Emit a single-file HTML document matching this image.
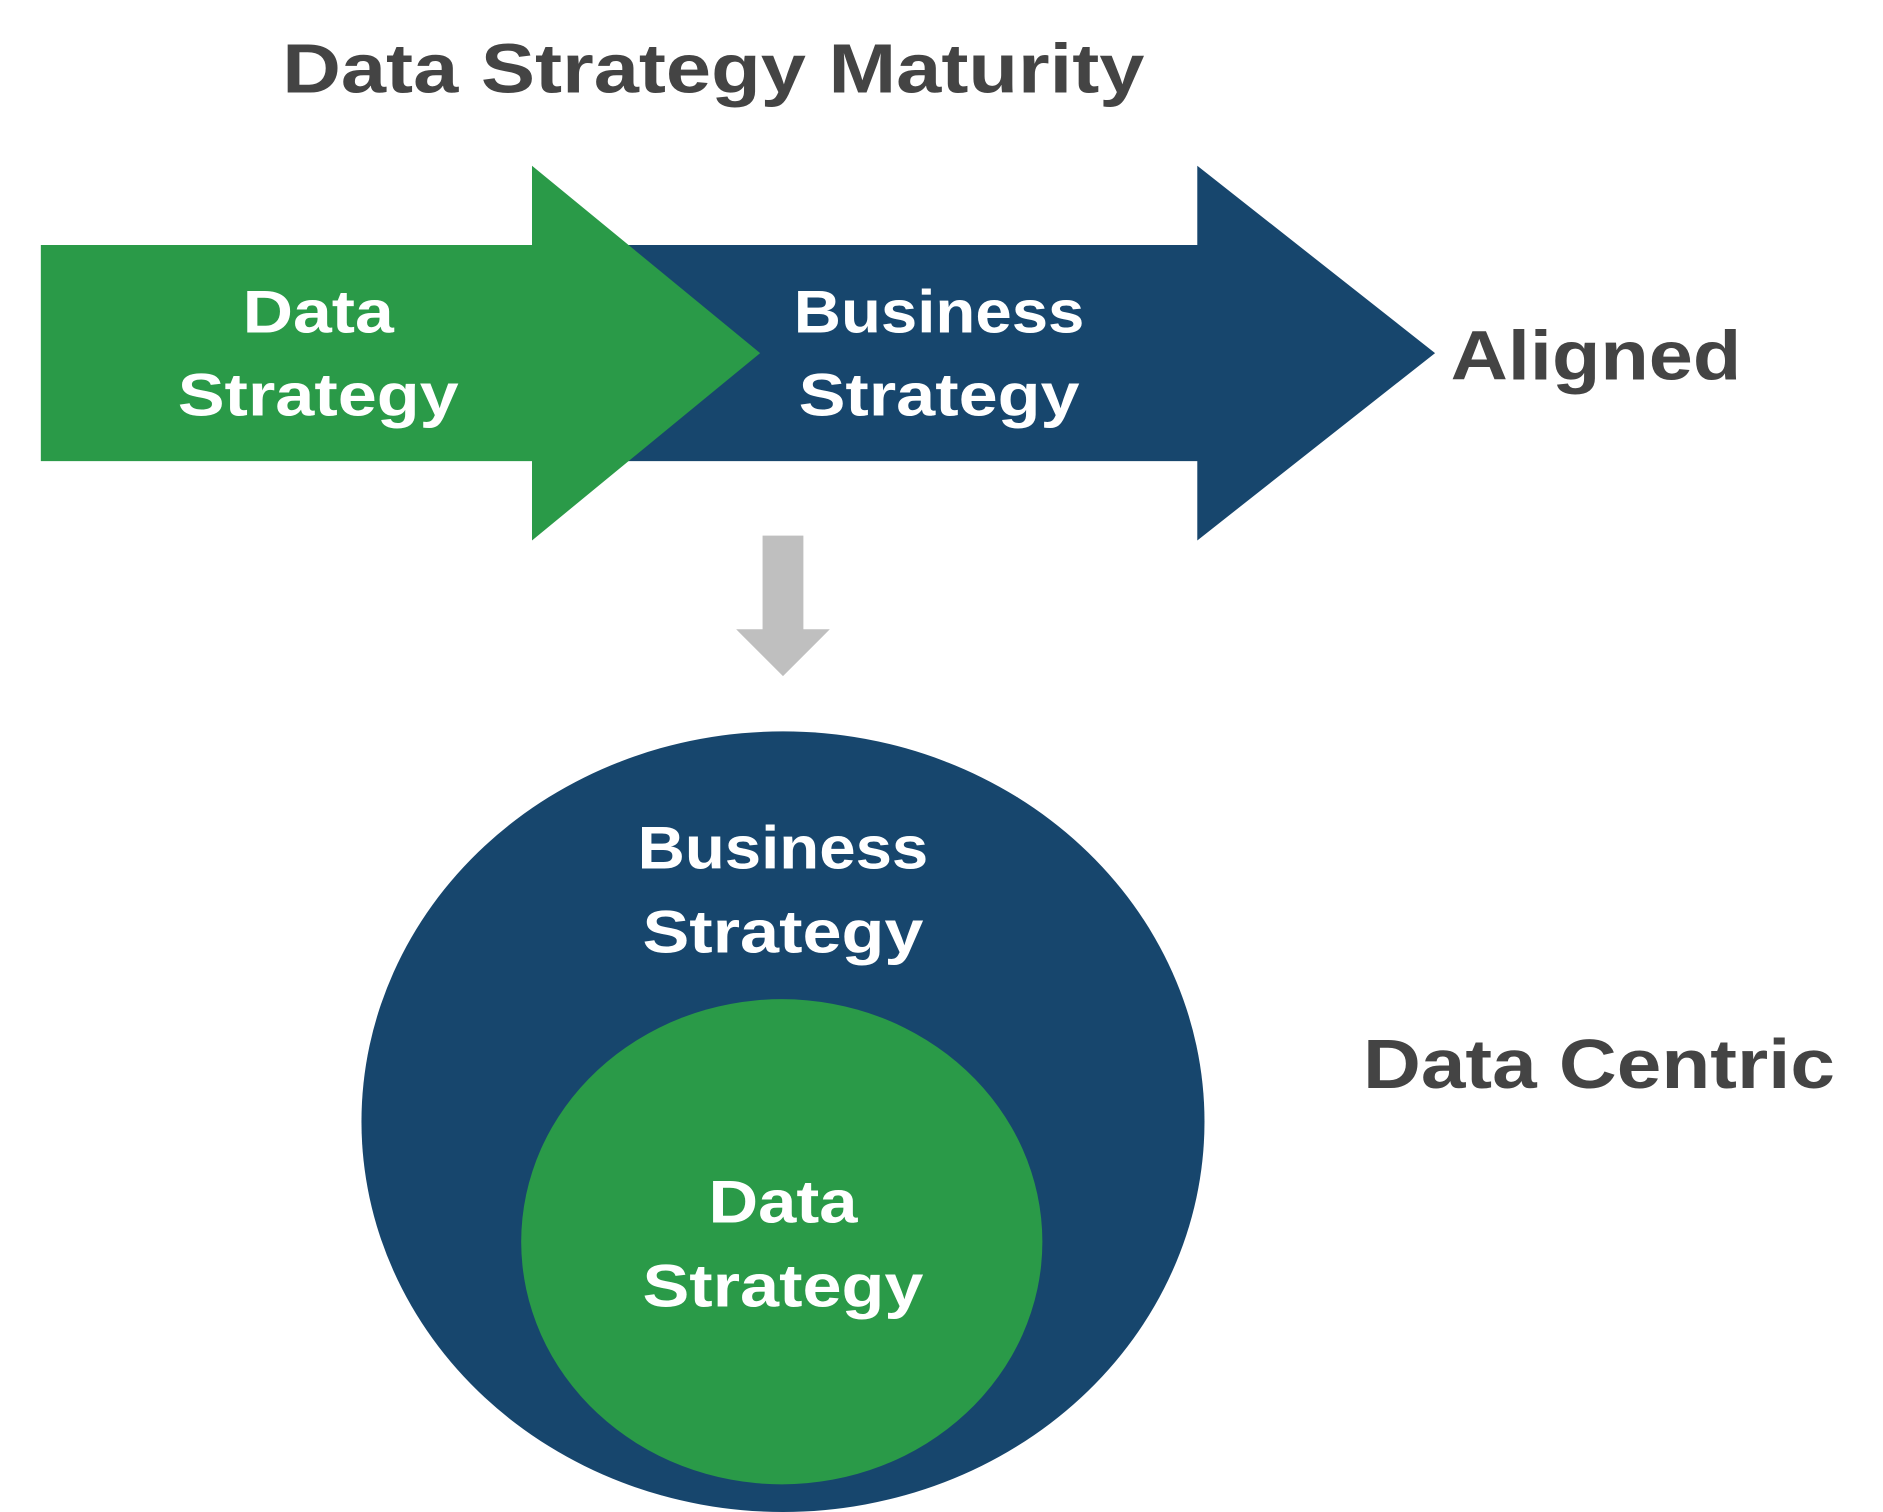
<!DOCTYPE html>
<html><head><meta charset="utf-8"><style>
html,body{margin:0;padding:0;background:#fff;}
svg{display:block;}
text{font-family:"Liberation Sans",sans-serif;font-weight:bold;}
</style></head><body>
<svg width="1883" height="1512" viewBox="0 0 1568 1259" xmlns="http://www.w3.org/2000/svg">
<text x="235" y="77" font-size="58" fill="#444" textLength="718" lengthAdjust="spacingAndGlyphs">Data Strategy Maturity</text>
<polygon points="500,204 997,204 997,138 1195,294 997,450 997,384 500,384" fill="#17466d"/>
<polygon points="34,204 443,204 443,138 633,294 443,450 443,384 34,384" fill="#2a9a48"/>
<g fill="#fff" font-size="50" text-anchor="middle">
<text x="265" y="277" textLength="126" lengthAdjust="spacingAndGlyphs">Data</text>
<text x="265" y="346" textLength="234" lengthAdjust="spacingAndGlyphs">Strategy</text>
<text x="782" y="277" textLength="242" lengthAdjust="spacingAndGlyphs">Business</text>
<text x="782" y="346" textLength="234" lengthAdjust="spacingAndGlyphs">Strategy</text>
</g>
<text x="1208" y="316" font-size="58" fill="#444" textLength="242" lengthAdjust="spacingAndGlyphs">Aligned</text>
<polygon points="635,446 669,446 669,524 691,524 652,563 613,524 635,524" fill="#bfbfbf"/>
<ellipse cx="652" cy="934" rx="351" ry="325" fill="#17466d"/>
<ellipse cx="651" cy="1034" rx="217" ry="202" fill="#2a9a48"/>
<g fill="#fff" font-size="50" text-anchor="middle">
<text x="652" y="723" textLength="242" lengthAdjust="spacingAndGlyphs">Business</text>
<text x="652" y="793" textLength="234" lengthAdjust="spacingAndGlyphs">Strategy</text>
<text x="652" y="1018" textLength="124" lengthAdjust="spacingAndGlyphs">Data</text>
<text x="652" y="1088" textLength="234" lengthAdjust="spacingAndGlyphs">Strategy</text>
</g>
<text x="1135" y="906" font-size="58" fill="#444" textLength="393" lengthAdjust="spacingAndGlyphs">Data Centric</text>
</svg>
</body></html>
